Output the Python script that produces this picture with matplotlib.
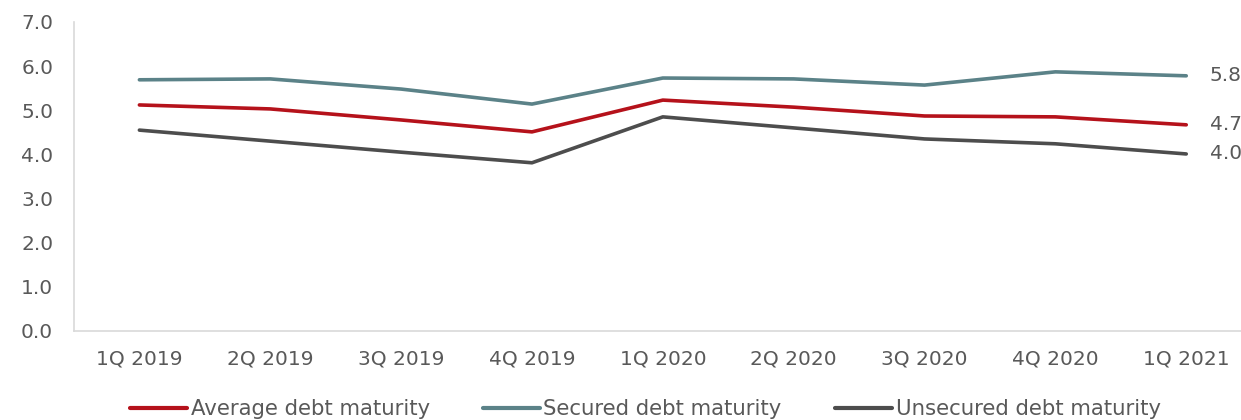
import matplotlib
matplotlib.use("Agg")
import matplotlib.pyplot as plt

quarters = ["1Q 2019", "2Q 2019", "3Q 2019", "4Q 2019", "1Q 2020",
            "2Q 2020", "3Q 2020", "4Q 2020", "1Q 2021"]

average_maturity = [5.12, 5.03, 4.78, 4.51, 5.23, 5.07, 4.87, 4.85, 4.67]
secured_maturity = [5.69, 5.71, 5.48, 5.14, 5.73, 5.71, 5.57, 5.87, 5.78]
unsecured_maturity = [4.55, 4.30, 4.05, 3.81, 4.85, 4.60, 4.35, 4.24, 4.01]

series = [
    ("Average debt maturity", average_maturity, "#B5121B"),
    ("Secured debt maturity", secured_maturity, "#5B8288"),
    ("Unsecured debt maturity", unsecured_maturity, "#4D4D4D"),
]

txt = "#595959"
plt.rcParams["font.family"] = ["DejaVu Sans"]

fig = plt.figure(figsize=(12.41, 4.20), dpi=100)
ax = fig.add_axes([0.0596, 0.212, 0.949, 0.7357])

x = range(len(quarters))
for name, vals, col in series:
    ax.plot(x, vals, color=col, lw=2.6, label=name, solid_capstyle="round")
    # value of the last quarter written at the line end
    ax.annotate(f"{vals[-1]:.1f}", (len(vals) - 1, vals[-1]), xytext=(17, 0),
                textcoords="offset points", va="center", ha="left",
                fontsize=14.5, color=txt, annotation_clip=False)

ax.set_xlim(-0.5, len(quarters) - 0.5)
ax.set_ylim(0, 7)
ax.set_yticks([i for i in range(8)])
ax.set_yticklabels([f"{i:.1f}" for i in range(8)])
ax.set_xticks(list(x))
ax.set_xticklabels(quarters)
ax.tick_params(axis="both", length=0, labelsize=14.5, labelcolor=txt)
ax.tick_params(axis="y", pad=15)
ax.tick_params(axis="x", pad=13)

for s in ["top", "right"]:
    ax.spines[s].set_visible(False)
for s in ["left", "bottom"]:
    ax.spines[s].set_color("#D9D9D9")
    ax.spines[s].set_linewidth(1.2)

leg = fig.legend(loc="center", bbox_to_anchor=(0.52, 0.026), ncol=3,
                 frameon=False, fontsize=15.3, handlelength=2.7,
                 handletextpad=0.15, columnspacing=2.5)
for t in leg.get_texts():
    t.set_color(txt)
for h in leg.get_lines():
    h.set_linewidth(3)

fig.savefig("out.png", dpi=100)
